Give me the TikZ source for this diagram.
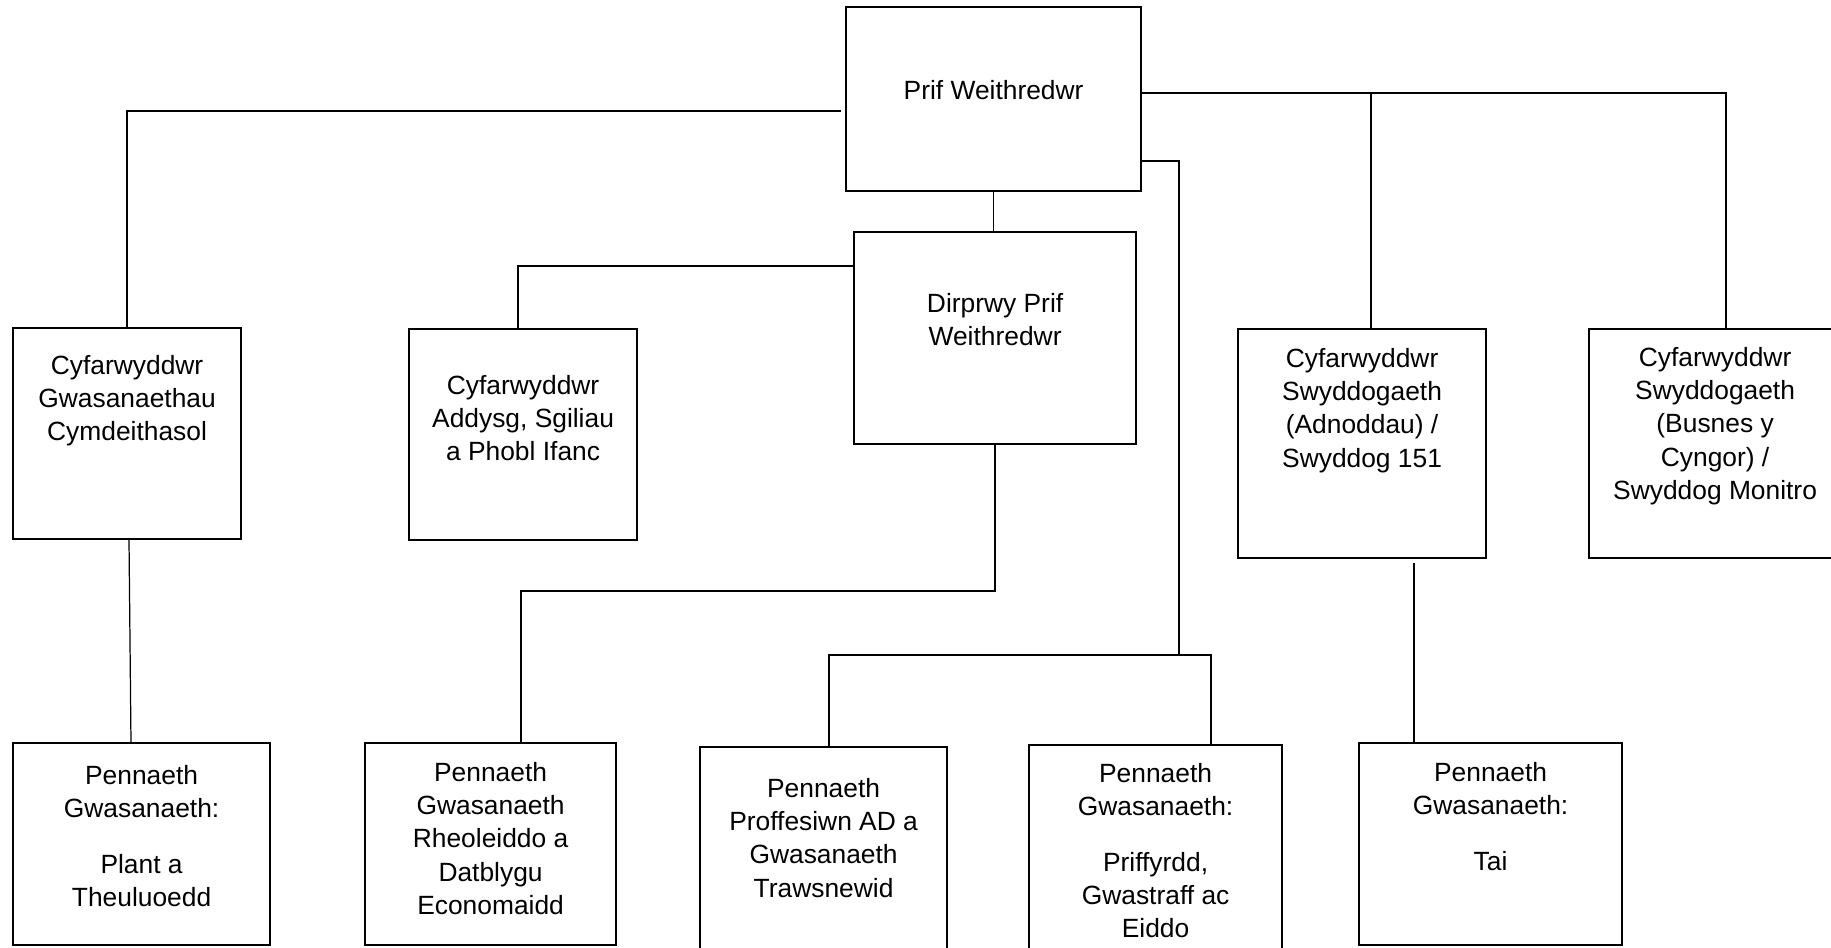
\documentclass[tikz,border=0pt]{standalone}
\usepackage{fontspec}
\setmainfont{Liberation Sans}
\usepackage{tikz}
\usetikzlibrary{calc,positioning}
\newcommand{\orgfont}{\fontsize{7.5pt}{9.4pt}\selectfont}

\begin{document}
\begin{tikzpicture}[x=0.01cm, y=-0.01cm,
  orgbox/.style={draw, line width=0.7pt, inner sep=0pt, outer sep=0pt, anchor=north west},
  boxtext/.style={anchor=north, inner sep=0pt, align=center, font=\orgfont},
  link/.style={line width=0.35pt}]
  \useasboundingbox (0,0) rectangle (1831,947);
  % Top level
  \node[orgbox, minimum width=2.95cm, minimum height=1.84cm,
    label={[boxtext, yshift=-0.73cm]north:Prif Weithredwr}] (prif) at (846,7) {};
  \node[orgbox, minimum width=2.82cm, minimum height=2.12cm,
    label={[boxtext, yshift=-0.61cm]north:{Dirprwy Prif\\Weithredwr}}] (dirprwy) at (854,232) {};
  % Directors
  \node[orgbox, minimum width=2.28cm, minimum height=2.11cm,
    label={[boxtext, yshift=-0.27cm]north:{Cyfarwyddwr\\Gwasanaethau\\Cymdeithasol}}] (gwasCym) at (13,328) {};
  \node[orgbox, minimum width=2.28cm, minimum height=2.11cm,
    label={[boxtext, yshift=-0.46cm]north:{Cyfarwyddwr\\Addysg, Sgiliau\\a Phobl Ifanc}}] (addysg) at (409,329) {};
  \node[orgbox, minimum width=2.48cm, minimum height=2.29cm,
    label={[boxtext, yshift=-0.19cm]north:{Cyfarwyddwr\\Swyddogaeth\\(Adnoddau) /\\Swyddog 151}}] (adnoddau) at (1238,329) {};
  \node[orgbox, minimum width=2.52cm, minimum height=2.29cm,
    label={[boxtext, yshift=-0.18cm]north:{Cyfarwyddwr\\Swyddogaeth\\(Busnes y\\Cyngor) /\\Swyddog Monitro}}] (busnes) at (1589,329) {};
  % Heads of service
  \node[orgbox, minimum width=2.57cm, minimum height=2.02cm,
    label={[boxtext, yshift=-0.22cm]north:{Pennaeth\\Gwasanaeth:\\[6.3pt]Plant a\\Theuluoedd}}] (plant) at (13,743) {};
  \node[orgbox, minimum width=2.51cm, minimum height=2.02cm,
    label={[boxtext, yshift=-0.19cm]north:{Pennaeth\\Gwasanaeth\\Rheoleiddo a\\Datblygu\\Economaidd}}] (rheol) at (365,743) {};
  \node[orgbox, minimum width=2.47cm, minimum height=2.10cm,
    label={[boxtext, yshift=-0.31cm]north:{Pennaeth\\Proffesiwn AD a\\Gwasanaeth\\Trawsnewid}}] (proff) at (700,747) {};
  \node[orgbox, minimum width=2.53cm, minimum height=2.10cm,
    label={[boxtext, yshift=-0.18cm]north:{Pennaeth\\Gwasanaeth:\\[6.3pt]Priffyrdd,\\Gwastraff ac\\Eiddo}}] (priff) at (1029,745) {};
  \node[orgbox, minimum width=2.63cm, minimum height=2.02cm,
    label={[boxtext, yshift=-0.19cm]north:{Pennaeth\\Gwasanaeth:\\[6.3pt]Tai}}] (tai) at (1359,743) {};
  % Links from Prif Weithredwr
  \draw[link] (prif.west |- 0,111) ++(-5,0) -| (gwasCym.north);
  \draw[link] (prif.east |- 0,93) -| (adnoddau.north -| 1371,0);
  \draw[link] (prif.east |- 0,93) -| (busnes.north -| 1726,0);
  \draw[link] (prif.south) -- (prif.south |- dirprwy.north);
  \coordinate (split) at (1179,655);
  \draw[link] (prif.east |- 0,161) -| (split);
  \draw[link] (proff.north -| 829,0) |- (split) -| (priff.north -| 1211,0);
  % Links from Dirprwy
  \draw[link] (dirprwy.west |- 0,266) -| (addysg.north -| 518,0);
  \draw[link] (dirprwy.south) |- (521,591) -- (rheol.north -| 521,0);
  % Links from directors
  \draw[link] (gwasCym.south -| 129,0) -- (plant.north -| 131,0);
  \draw[link] (adnoddau.south -| 1414,0) ++(0,5) -- (tai.north -| 1414,0);
\end{tikzpicture}
\end{document}
